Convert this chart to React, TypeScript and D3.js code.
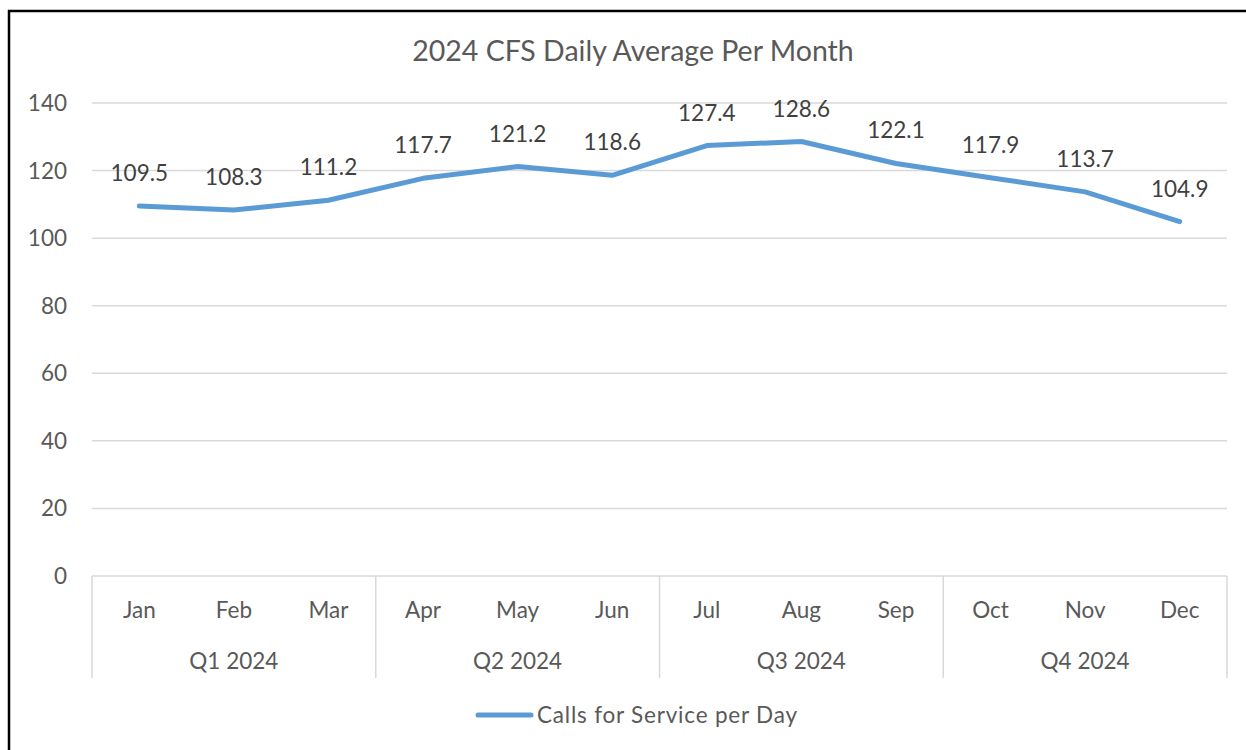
import React from "react";
import * as d3 from "d3";

const months = ["Jan", "Feb", "Mar", "Apr", "May", "Jun", "Jul", "Aug", "Sep", "Oct", "Nov", "Dec"];
const quarters = ["Q1 2024", "Q2 2024", "Q3 2024", "Q4 2024"];
const values = [109.5, 108.3, 111.2, 117.7, 121.2, 118.6, 127.4, 128.6, 122.1, 117.9, 113.7, 104.9];
const yTicks = [0, 20, 40, 60, 80, 100, 120, 140];
const title = "2024 CFS Daily Average Per Month";
const seriesName = "Calls for Service per Day";

const W = 1246;
const H = 750;
const FONT = "Lato, 'Open Sans', sans-serif";
const TEXT = "#595959";
const LABEL = "#404040";
const GRID = "#d9d9d9";
const LINE = "#5B9BD5";

export default function App() {
  const x = d3.scaleBand<string>().domain(months).range([92, 1227]).paddingInner(0).paddingOuter(0);
  const y = d3.scaleLinear().domain([0, 140]).range([576, 103]);
  const cx = (m: string) => (x(m) as number) + x.bandwidth() / 2;
  const line = d3
    .line<number>()
    .x((_, i) => cx(months[i]))
    .y((d) => y(d));

  const axisY = y(0);
  const monthBaseline = 618;
  const quarterBaseline = 669;
  const axisBottom = 678;
  const sepIdx = [0, 3, 6, 9, 12];
  const bx = (i: number) => (i < 12 ? (x(months[i]) as number) : x.range()[1]);

  return (
    <svg
      width={W}
      height={H}
      style={{ position: "absolute", left: 0, top: 0, background: "#fff" }}
      fontFamily={FONT}
    >
      <rect x={0} y={0} width={W} height={H} fill="#fff" />
      <rect x={9} y={11} width={1400} height={900} fill="none" stroke="#000" strokeWidth={2.5} />

      <text x={633} y={61} textAnchor="middle" fontSize={28.5} fill={TEXT}>
        {title}
      </text>

      {yTicks.map((t) => (
        <g key={t}>
          {t !== 0 && (
            <line x1={92} x2={1227} y1={y(t)} y2={y(t)} stroke={GRID} strokeWidth={1.5} />
          )}
          <text x={67} y={y(t) + 8} textAnchor="end" fontSize={22.5} fill={TEXT}>
            {t}
          </text>
        </g>
      ))}

      <line x1={92} x2={1227} y1={axisY} y2={axisY} stroke={GRID} strokeWidth={1.5} />
      {sepIdx.map((i) => (
        <line key={i} x1={bx(i)} x2={bx(i)} y1={axisY} y2={axisBottom} stroke={GRID} strokeWidth={1.5} />
      ))}

      {months.map((m) => (
        <text key={m} x={cx(m)} y={monthBaseline} textAnchor="middle" fontSize={22.5} fill={TEXT}>
          {m}
        </text>
      ))}
      {quarters.map((q, i) => (
        <text
          key={q}
          x={(bx(i * 3) + bx(i * 3 + 3)) / 2}
          y={quarterBaseline}
          textAnchor="middle"
          fontSize={22.5}
          fill={TEXT}
        >
          {q}
        </text>
      ))}

      <path
        d={line(values) || ""}
        fill="none"
        stroke={LINE}
        strokeWidth={5}
        strokeLinecap="round"
        strokeLinejoin="round"
      />

      {values.map((v, i) => (
        <text key={i} x={cx(months[i])} y={y(v) - 25} textAnchor="middle" fontSize={22.5} fill={LABEL}>
          {v.toFixed(1)}
        </text>
      ))}

      <line x1={478} x2={531} y1={715} y2={715} stroke={LINE} strokeWidth={5} strokeLinecap="round" />
      <text x={537} y={723} fontSize={22.5} letterSpacing={0.8} fill={TEXT}>
        {seriesName}
      </text>
    </svg>
  );
}
